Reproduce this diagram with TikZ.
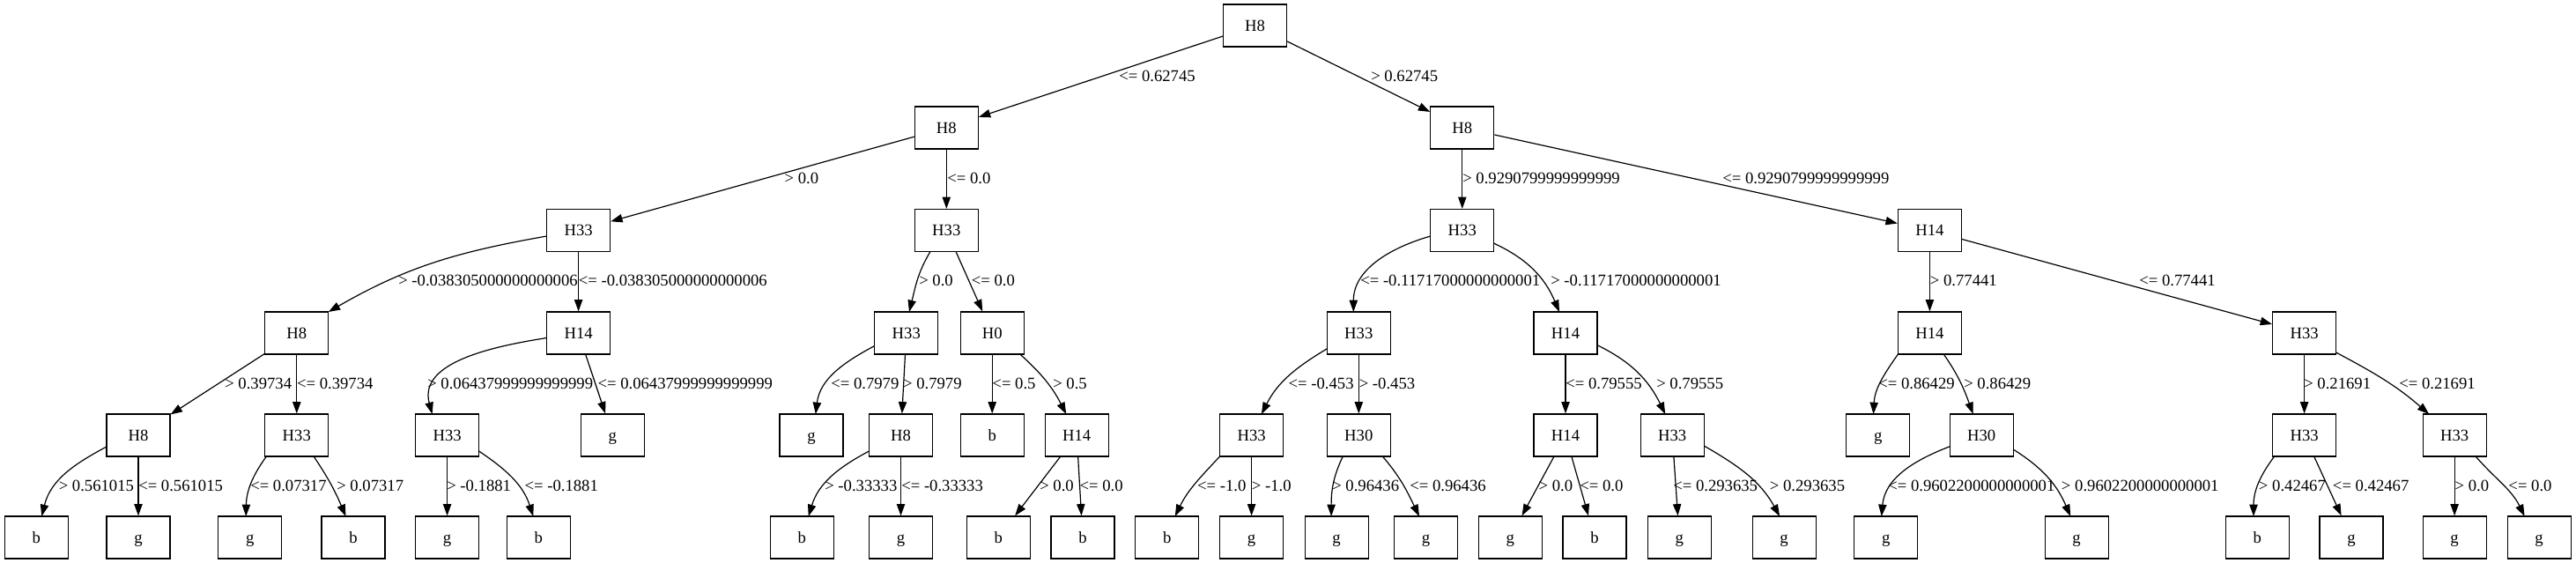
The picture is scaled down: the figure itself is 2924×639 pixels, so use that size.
\documentclass[tikz,border=0pt]{standalone}
\usepackage{fontspec}
\setmainfont{Liberation Serif}
\usetikzlibrary{arrows.meta,calc}
\tikzset{
  box/.style={draw, line width=0.9pt, minimum width=54pt, minimum height=36pt, inner sep=0pt,
    text height=12.5pt, text depth=3pt, font=\fontsize{14}{16}\selectfont},
  lbl/.style={anchor=base west, inner sep=0pt, font=\fontsize{14}{16}\selectfont},
  edge/.style={draw, line width=0.9pt, -{Triangle[length=10pt,width=7pt]}},
}
\newcommand\mylbl[4]{\node[lbl] (#1) at (#2,#3) {#4};}
\begin{document}
\begin{tikzpicture}[x=0.75pt,y=0.75pt]
\useasboundingbox (0,0) rectangle (2924,-639);
% row 0
\node[box] (n0) at (1424.6,-29) {H8};
% row 1
\node[box] (n1) at (1074.3,-145) {H8};
\node[box] (n2) at (1659.8,-145) {H8};
% row 2
\node[box] (n3) at (656.6,-261.5) {H33};
\node[box] (n4) at (1074.3,-261.5) {H33};
\node[box] (n5) at (1659.8,-261.5) {H33};
\node[box] (n6) at (2190.4,-261.5) {H14};
% row 3
\node[box] (n7) at (336.8,-378) {H8};
\node[box] (n8) at (656.6,-378) {H14};
\node[box] (n9) at (1028.8,-378) {H33};
\node[box] (n10) at (1126.2,-378) {H0};
\node[box] (n11) at (1542.3,-378) {H33};
\node[box] (n12) at (1777,-378) {H14};
\node[box] (n13) at (2190.4,-378) {H14};
\node[box] (n14) at (2615.6,-378) {H33};
% row 4
\node[box] (n15) at (157,-494) {H8};
\node[box] (n16) at (336.8,-494) {H33};
\node[box] (n17) at (507.6,-494) {H33};
\node[box] (n18) at (695.3,-494) {g};
\node[box] (n19) at (921,-494) {g};
\node[box] (n20) at (1022.5,-494) {H8};
\node[box] (n21) at (1126.2,-494) {b};
\node[box] (n22) at (1222.2,-494) {H14};
\node[box] (n23) at (1420.6,-494) {H33};
\node[box] (n24) at (1542.3,-494) {H30};
\node[box] (n25) at (1777,-494) {H14};
\node[box] (n26) at (1898.2,-494) {H33};
\node[box] (n27) at (2131.7,-494) {g};
\node[box] (n28) at (2249.1,-494) {H30};
\node[box] (n29) at (2615.6,-494) {H33};
\node[box] (n30) at (2786.1,-494) {H33};
% row 5
\node[box] (n31) at (41.3,-610) {b};
\node[box] (n32) at (157,-610) {g};
\node[box] (n33) at (283.7,-610) {g};
\node[box] (n34) at (401,-610) {b};
\node[box] (n35) at (507.6,-610) {g};
\node[box] (n36) at (611.3,-610) {b};
\node[box] (n37) at (910.4,-610) {b};
\node[box] (n38) at (1022.5,-610) {g};
\node[box] (n39) at (1133.3,-610) {b};
\node[box] (n40) at (1229,-610) {b};
\node[box] (n41) at (1324.8,-610) {b};
\node[box] (n42) at (1420.6,-610) {g};
\node[box] (n43) at (1517.1,-610) {g};
\node[box] (n44) at (1618.5,-610) {g};
\node[box] (n45) at (1714.2,-610) {g};
\node[box] (n46) at (1810,-610) {b};
\node[box] (n47) at (1906.2,-610) {g};
\node[box] (n48) at (2025.1,-610) {g};
\node[box] (n49) at (2140.7,-610) {g};
\node[box] (n50) at (2357.1,-610) {g};
\node[box] (n51) at (2562.3,-610) {b};
\node[box] (n52) at (2668.9,-610) {g};
\node[box] (n53) at (2786.1,-610) {g};
\node[box] (n54) at (2882.1,-610) {g};

% straight edges
\draw[edge] (n0) -- (n1);
\draw[edge] (n0) -- (n2);
\draw[edge] (n1) -- (n3);
\draw[edge] (n1) -- (n4);
\draw[edge] (n2) -- (n5);
\draw[edge] (n2) -- (n6);
\draw[edge] (n3) -- (n8);
\draw[edge] (n4) -- (n10);
\draw[edge] (n6) -- (n13);
\draw[edge] (n6) -- (n14);
\draw[edge] (n7) -- (n15);
\draw[edge] (n7) -- (n16);
\draw[edge] (n8) -- (n18);
\draw[edge] (n9) -- (n20);
\draw[edge] (n10) -- (n21);
\draw[edge] (n11) -- (n24);
\draw[edge] (n12) -- (n25);
\draw[edge] (n14) -- (n29);
\draw[edge] (n15) -- (n32);
\draw[edge] (n17) -- (n35);
\draw[edge] (n20) -- (n38);
\draw[edge] (n22) -- (n39);
\draw[edge] (n22) -- (n40);
\draw[edge] (n23) -- (n42);
\draw[edge] (n25) -- (n45);
\draw[edge] (n25) -- (n46);
\draw[edge] (n26) -- (n47);
\draw[edge] (n29) -- (n52);
\draw[edge] (n30) -- (n53);

% curved edges
\draw[edge] ($(n3)+(-36,-6.5)$) to[out=190,in=30] ($(n7)+(36,24)$);
\draw[edge] ($(n4)+(-18.3,-24)$) to[out=239,in=76] ($(n9)+(3.2,24)$);
\draw[edge] ($(n5)+(-36,-6.5)$) to[out=196,in=90] ($(n11)+(-6,24)$);
\draw[edge] ($(n5)+(36,-14.7)$) to[out=335,in=113] ($(n12)+(-7,24)$);
\draw[edge] ($(n8)+(-36,-5.5)$) to[out=189,in=105] ($(n17)+(-17,24)$);
\draw[edge] ($(n9)+(-36,-14.5)$) to[out=208,in=83] ($(n19)+(4.8,24)$);
\draw[edge] ($(n10)+(31.6,-24)$) to[out=318,in=117] ($(n22)+(-12,24)$);
\draw[edge] ($(n11)+(-36,-17.8)$) to[out=211,in=63] ($(n23)+(11.3,24)$);
\draw[edge] ($(n12)+(36,-13.7)$) to[out=334,in=116] ($(n26)+(-8,24)$);
\draw[edge] ($(n13)+(-36,-24)$) to[out=235,in=87] ($(n27)+(-5.2,24)$);
\draw[edge] ($(n13)+(15.8,-24)$) to[out=305,in=110] ($(n28)+(-9.4,24)$);
\draw[edge] ($(n14)+(36,-22)$) to[out=332,in=139] ($(n30)+(-29,24)$);
\draw[edge] ($(n15)+(-36,-13)$) to[out=208,in=76] ($(n31)+(6,24)$);
\draw[edge] ($(n16)+(-34.4,-24)$) to[out=234,in=89] ($(n33)+(-4.5,24)$);
\draw[edge] ($(n16)+(19.3,-24)$) to[out=304,in=113] ($(n34)+(-8.5,24)$);
\draw[edge] ($(n17)+(36,-18)$) to[out=326,in=108] ($(n36)+(-6,24)$);
\draw[edge] ($(n20)+(-36,-18)$) to[out=208,in=73] ($(n37)+(7.3,24)$);
\draw[edge] ($(n23)+(-36,-24)$) to[out=227,in=64] ($(n41)+(9,24)$);
\draw[edge] ($(n24)+(-18,-24)$) to[out=244,in=90] ($(n43)+(-6,24)$);
\draw[edge] ($(n24)+(27,-24)$) to[out=311,in=116] ($(n44)+(-7.5,24)$);
\draw[edge] ($(n26)+(36,-12)$) to[out=330,in=119] ($(n48)+(-5,24)$);
\draw[edge] ($(n28)+(-36,-12.8)$) to[out=201,in=85] ($(n49)+(-5,24)$);
\draw[edge] ($(n28)+(36,-16)$) to[out=328,in=113] ($(n50)+(-7,24)$);
\draw[edge] ($(n29)+(-34,-24)$) to[out=233,in=90] ($(n51)+(-4.3,24)$);
\draw[edge] ($(n30)+(24,-24)$) to[out=311,in=116] ($(n54)+(-16.5,24)$);

% labels
\mylbl{l1}{1270}{-92.8}{<= 0.62745}
\mylbl{l2}{1556}{-92.8}{> 0.62745}
\mylbl{l3}{890.4}{-208.7}{> 0.0}
\mylbl{l4}{1075}{-208.7}{<= 0.0}
\mylbl{l5}{1660}{-208.7}{> 0.9290799999999999}
\mylbl{l6}{1955}{-208.7}{<= 0.9290799999999999}
\mylbl{l7}{452}{-324.9}{> -0.038305000000000006}
\mylbl{l8}{656.6}{-324.9}{<= -0.038305000000000006}
\mylbl{l9}{1043}{-324.9}{> 0.0}
\mylbl{l10}{1102.6}{-324.9}{<= 0.0}
\mylbl{l11}{1544}{-324.9}{<= -0.11717000000000001}
\mylbl{l12}{1760}{-324.9}{> -0.11717000000000001}
\mylbl{l13}{2190.6}{-324.9}{> 0.77441}
\mylbl{l14}{2428}{-324.9}{<= 0.77441}
\mylbl{l15}{255}{-441.3}{> 0.39734}
\mylbl{l16}{336.8}{-441.3}{<= 0.39734}
\mylbl{l17}{485}{-441.3}{> 0.06437999999999999}
\mylbl{l18}{678.3}{-441.3}{<= 0.06437999999999999}
\mylbl{l19}{943}{-441.3}{<= 0.7979}
\mylbl{l20}{1024.8}{-441.3}{> 0.7979}
\mylbl{l21}{1126.2}{-441.3}{<= 0.5}
\mylbl{l22}{1195}{-441.3}{> 0.5}
\mylbl{l23}{1462.4}{-441.3}{<= -0.453}
\mylbl{l24}{1542.5}{-441.3}{> -0.453}
\mylbl{l25}{1777}{-441.3}{<= 0.79555}
\mylbl{l26}{1880}{-441.3}{> 0.79555}
\mylbl{l27}{2132}{-441.3}{<= 0.86429}
\mylbl{l28}{2229}{-441.3}{> 0.86429}
\mylbl{l29}{2615}{-441.3}{> 0.21691}
\mylbl{l30}{2723}{-441.3}{<= 0.21691}
\mylbl{l31}{66.5}{-557.3}{> 0.561015}
\mylbl{l32}{157}{-557.3}{<= 0.561015}
\mylbl{l33}{284}{-557.3}{<= 0.07317}
\mylbl{l34}{382}{-557.3}{> 0.07317}
\mylbl{l35}{507}{-557.3}{> -0.1881}
\mylbl{l36}{595.3}{-557.3}{<= -0.1881}
\mylbl{l37}{936}{-557.3}{> -0.33333}
\mylbl{l38}{1023}{-557.3}{<= -0.33333}
\mylbl{l39}{1180}{-557.3}{> 0.0}
\mylbl{l40}{1225.3}{-557.3}{<= 0.0}
\mylbl{l41}{1358.8}{-557.3}{<= -1.0}
\mylbl{l42}{1420.6}{-557.3}{> -1.0}
\mylbl{l43}{1512}{-557.3}{> 0.96436}
\mylbl{l44}{1600}{-557.3}{<= 0.96436}
\mylbl{l45}{1746.3}{-557.3}{> 0.0}
\mylbl{l46}{1793}{-557.3}{<= 0.0}
\mylbl{l47}{1899}{-557.3}{<= 0.293635}
\mylbl{l48}{2008.6}{-557.3}{> 0.293635}
\mylbl{l49}{2143}{-557.3}{<= 0.9602200000000001}
\mylbl{l50}{2339.7}{-557.3}{> 0.9602200000000001}
\mylbl{l51}{2563.7}{-557.3}{> 0.42467}
\mylbl{l52}{2647.7}{-557.3}{<= 0.42467}
\mylbl{l53}{2786.4}{-557.3}{> 0.0}
\mylbl{l54}{2847.2}{-557.3}{<= 0.0}
\end{tikzpicture}
\end{document}
